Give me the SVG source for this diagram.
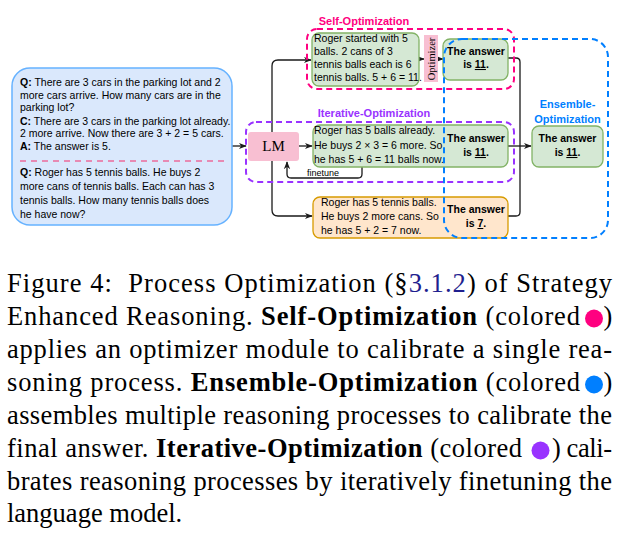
<svg xmlns="http://www.w3.org/2000/svg" width="620" height="550" viewBox="0 0 620 550">
<style>
.t{font-family:"Liberation Sans",Arial,sans-serif;font-size:10.5px;fill:#000}
.b{font-weight:bold}
.u{text-decoration:underline}
.c{font-family:"Liberation Sans",Arial,sans-serif;font-size:10.5px;font-weight:bold;text-anchor:middle}
.lbl{font-family:"Liberation Sans",Arial,sans-serif;font-size:11px;font-weight:bold;text-anchor:middle}
.cap{font-family:"Liberation Serif","Times New Roman",serif;font-size:26.5px;fill:#000}
.ln{fill:none;stroke:#1a1a1a;stroke-width:1.3}
.grp{fill:none;stroke-width:2;stroke-dasharray:6 4}
.green{fill:#d5e8d4;stroke:#82b366;stroke-width:1.3}
.orange{fill:#ffe6cc;stroke:#d79b00;stroke-width:1.3}
.pink{fill:#f8bfd2;stroke:none}
</style>
<defs>
<marker id="ah" viewBox="0 0 10 10" refX="9" refY="5" markerWidth="8" markerHeight="8" orient="auto" markerUnits="userSpaceOnUse">
<path d="M0,1 L10,5 L0,9 L3,5 z" fill="#1a1a1a"/>
</marker>
</defs>
<rect width="620" height="550" fill="#fff"/>

<g id="connectors">
<path class="ln" d="M272,146 V66 Q272,60 278,60 H311" marker-end="url(#ah)"/>
<path class="ln" d="M272,146 V210 Q272,216 278,216 H312" marker-end="url(#ah)"/>
<path class="ln" d="M232,146 H246" marker-end="url(#ah)"/>
<path class="ln" d="M299,146 H312" marker-end="url(#ah)"/>
<path class="ln" d="M362,167 V174 Q362,178 358,178 H291 Q287,178 287,174 V162" marker-end="url(#ah)"/>
<path class="ln" d="M419,59 H424" marker-end="url(#ah)"/>
<path class="ln" d="M438,59 H443" marker-end="url(#ah)"/>
<path class="ln" d="M508,58 H516 Q520,58 520,62 V146"/>
<path class="ln" d="M508,216 H516 Q520,216 520,212 V146"/>
<path class="ln" d="M508,146 H531" marker-end="url(#ah)"/>
<text class="t" x="323" y="176" text-anchor="middle" style="font-size:9px">finetune</text>
</g>

<g id="input">
<rect x="12" y="68" width="220" height="157" rx="18" fill="#dae8fc" stroke="#66b2ff" stroke-width="1.5"/>
<text class="t" x="20" y="86"><tspan class="b">Q:</tspan> There are 3 cars in the parking lot and 2</text>
<text class="t" x="20" y="99">more cars arrive. How many cars are in the</text>
<text class="t" x="20" y="111">parking lot?</text>
<text class="t" x="20" y="125"><tspan class="b">C:</tspan> There are 3 cars in the parking lot already.</text>
<text class="t" x="20" y="137">2 more arrive. Now there are 3 + 2 = 5 cars.</text>
<text class="t" x="20" y="150"><tspan class="b">A:</tspan> The answer is 5.</text>
<line x1="20" y1="161" x2="226" y2="161" stroke="#ec6b9b" stroke-width="1.5" stroke-dasharray="6 5"/>
<text class="t" x="20" y="176"><tspan class="b">Q:</tspan> Roger has 5 tennis balls. He buys 2</text>
<text class="t" x="20" y="190">more cans of tennis balls. Each can has 3</text>
<text class="t" x="20" y="204">tennis balls. How many tennis balls does</text>
<text class="t" x="20" y="218">he have now?</text>
</g>

<g id="lm">
<rect class="pink" x="248" y="132" width="51" height="29" rx="3"/>
<text x="273.5" y="151" text-anchor="middle" font-family="Liberation Serif,Times New Roman,serif" font-size="15">LM</text>
</g>

<g id="self-reasoning">
<rect class="green" x="312" y="33" width="107" height="53" rx="7"/>
<text class="t" x="314" y="42">Roger started with 5</text>
<text class="t" x="314" y="55">balls. 2 cans of 3</text>
<text class="t" x="314" y="68">tennis balls each is 6</text>
<text class="t" x="314" y="81">tennis balls. 5 + 6 = 11.</text>
</g>

<g id="optimizer">
<rect class="pink" x="424" y="35" width="14" height="47"/>
<text transform="translate(434.5,59) rotate(-90)" text-anchor="middle" font-family="Liberation Serif,Times New Roman,serif" font-size="10.5">Optimizer</text>
</g>

<g id="answer1">
<rect class="green" x="443" y="39" width="65" height="41" rx="7"/>
<text class="c" x="476" y="55">The answer</text>
<text class="c" x="476" y="68">is <tspan class="u">11</tspan>.</text>
</g>

<g id="iter-reasoning">
<rect class="green" x="313" y="125" width="195" height="42" rx="7"/>
<text class="t" x="314" y="134">Roger has 5 balls already.</text>
<text class="t" x="314" y="149">He buys 2 × 3 = 6 more. So</text>
<text class="t" x="314" y="163">he has 5 + 6 = 11 balls now.</text>
<text class="c" x="476" y="142">The answer</text>
<text class="c" x="476" y="156">is <tspan class="u">11</tspan>.</text>
</g>

<g id="other-reasoning">
<rect class="orange" x="313" y="197" width="195" height="41" rx="7"/>
<text class="t" x="321" y="206">Roger has 5 tennis balls.</text>
<text class="t" x="321" y="220">He buys 2 more cans. So</text>
<text class="t" x="321" y="234">he has 5 + 2 = 7 now.</text>
<text class="c" x="476" y="213">The answer</text>
<text class="c" x="476" y="227">is <tspan class="u">7</tspan>.</text>
</g>

<g id="final">
<rect class="green" x="532" y="126" width="71" height="41" rx="7"/>
<text class="c" x="567.5" y="142">The answer</text>
<text class="c" x="567.5" y="156">is <tspan class="u">11</tspan>.</text>
</g>

<g id="self-optimization">
<rect class="grp" x="307" y="29" width="207" height="60" rx="10" stroke="#ff0080"/>
<text class="lbl" x="364" y="25" fill="#ff0080">Self-Optimization</text>
</g>

<g id="iterative-optimization">
<rect class="grp" x="246" y="122" width="268" height="60" rx="10" stroke="#9933ff"/>
<text class="lbl" x="374" y="117" fill="#9933ff">Iterative-Optimization</text>
</g>

<g id="ensemble-optimization">
<rect class="grp" x="444" y="39" width="164" height="199" rx="18" stroke="#007fff" stroke-width="1.6"/>
<text class="lbl" x="567.5" y="108" fill="#007fff">Ensemble-</text>
<text class="lbl" x="567.5" y="123" fill="#007fff">Optimization</text>
</g>

<g id="caption">
<text class="cap" x="7" y="292" textLength="605" lengthAdjust="spacing">Figure 4:&#160; Process Optimization (§<tspan fill="#1f1f8f">3.1.2</tspan>) of Strategy</text>
<text class="cap" x="7" y="325" textLength="573" lengthAdjust="spacing">Enhanced Reasoning. <tspan font-weight="bold">Self-Optimization</tspan> (colored</text>
<circle cx="594" cy="318.5" r="9" fill="#ff0080"/>
<text class="cap" x="603.5" y="325">)</text>
<text class="cap" x="7" y="358" textLength="605" lengthAdjust="spacing">applies an optimizer module to calibrate a single rea-</text>
<text class="cap" x="7" y="391" textLength="573" lengthAdjust="spacing">soning process. <tspan font-weight="bold">Ensemble-Optimization</tspan> (colored</text>
<circle cx="594" cy="384.5" r="9" fill="#007fff"/>
<text class="cap" x="603.5" y="391">)</text>
<text class="cap" x="7" y="424" textLength="605" lengthAdjust="spacing">assembles multiple reasoning processes to calibrate the</text>
<text class="cap" x="7" y="457" textLength="515" lengthAdjust="spacing">final answer. <tspan font-weight="bold">Iterative-Optimization</tspan> (colored</text>
<circle cx="540.5" cy="450.5" r="9" fill="#9933ff"/>
<text class="cap" x="552" y="457" textLength="60" lengthAdjust="spacing">) cali-</text>
<text class="cap" x="7" y="490" textLength="605" lengthAdjust="spacing">brates reasoning processes by iteratively finetuning the</text>
<text class="cap" x="7" y="522">language model.</text>
</g>
</svg>
